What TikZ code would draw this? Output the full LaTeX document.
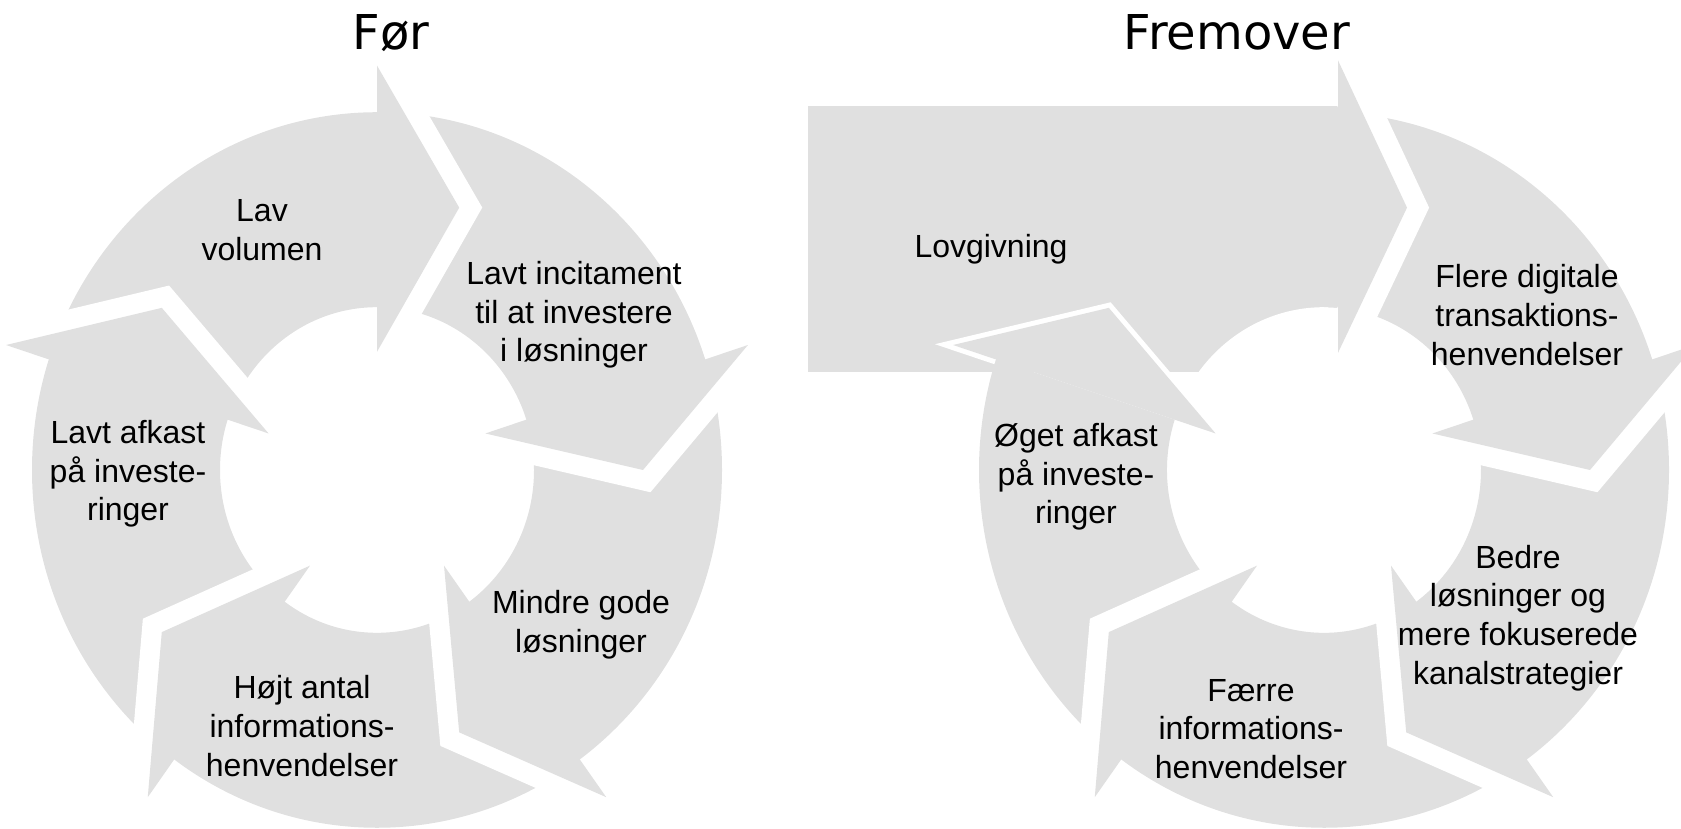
\documentclass[tikz,border=0pt]{standalone}
\usepackage{fontspec}
\setmainfont{Liberation Sans}
\newfontfamily\titlefont{DejaVu Sans}
\usetikzlibrary{positioning}

\definecolor{segfill}{RGB}{224,224,224}

\tikzset{
  seg/.style={fill=segfill, draw=none},
  gapcut/.style={draw=white, line width=20pt, line join=miter, line cap=butt},
  thincut/.style={draw=white, line width=5pt, line join=miter, line cap=butt},
  lbl/.style={align=center, inner sep=0pt, font=\fontsize{16}{19.3}\selectfont},
  ttl/.style={inner sep=0pt, anchor=base, font=\titlefont\fontsize{24}{28}\selectfont},
}

\begin{document}
\begin{tikzpicture}[x=0.5pt, y=0.5pt]
  \useasboundingbox (0,0) rectangle (1681,829);

  % Left cycle
  \begin{scope}[shift={(377,359)}, yscale=1.037]
    \fill[seg, even odd rule] (0,0) circle[radius=345] (0,0) circle[radius=157];
    \foreach \a in {90,18,-54,-126,-198}
    {
      \draw[gapcut] (\a:390) -- (\a-18:266) -- (\a:114);
      \fill[seg] (\a:390) -- (\a-18:266) -- (\a:114) -- cycle;
    }
  \end{scope}

  % Right cycle
  \begin{scope}[shift={(1324,359)}, yscale=1.037]
    % block arrow
    \fill[seg] (-516,94.5) rectangle (14,351);
    \fill[white] (0,0) circle[radius=157];
    % ring
    \fill[seg] (90:345) arc[start angle=90, end angle=-198, radius=345]
      -- (-198:157) arc[start angle=-198, end angle=90, radius=157] -- cycle;
    \foreach \a in {18,-54,-126}
    {
      \draw[gapcut] (\a:390) -- (\a-18:266) -- (\a:114);
      \fill[seg] (\a:390) -- (\a-18:266) -- (\a:114) -- cycle;
    }
    % head of block arrow
    \draw[gapcut] (14,395) -- (83,253) -- (14,113);
    \fill[seg] (14,395) -- (83,253) -- (14,113) -- cycle;
    % head over block arrow
    \draw[thincut] (-198:345) -- (-198:390) -- (-216:266) -- (-198:114);
    \fill[seg] (-198:390) -- (-216:266) -- (-198:114) -- cycle;
  \end{scope}

  % Titles
  \node[ttl] (foer) at (391,779) {Før};
  \node[ttl] (fremover) at (1237,779) {Fremover};

  % Left labels
  \node[lbl] (lav) at (262,599) {Lav\\volumen};
  \node[lbl] (incitament) at (574,514) {Lavt incitament\\til at investere\\i løsninger};
  \node[lbl] (mindre) at (581,204) {Mindre gode\\løsninger};
  \node[lbl] (hoejt) at (302,103) {Højt antal\\informations-\\henvendelser};
  \node[lbl] (afkast) at (128,355) {Lavt afkast\\på investe-\\ringer};

  % Right labels
  \node[lbl, anchor=base] (lovgivning) at (991,571) {Lovgivning};
  \node[lbl] (flere) at (1527,514) {Flere digitale\\transaktions-\\henvendelser};
  \node[lbl] (bedre) at (1518,211) {Bedre\\løsninger og\\mere fokuserede\\kanalstrategier};
  \node[lbl] (faerre) at (1251,100) {Færre\\informations-\\henvendelser};
  \node[lbl] (oeget) at (1076,352) {Øget afkast\\på investe-\\ringer};
\end{tikzpicture}
\end{document}
